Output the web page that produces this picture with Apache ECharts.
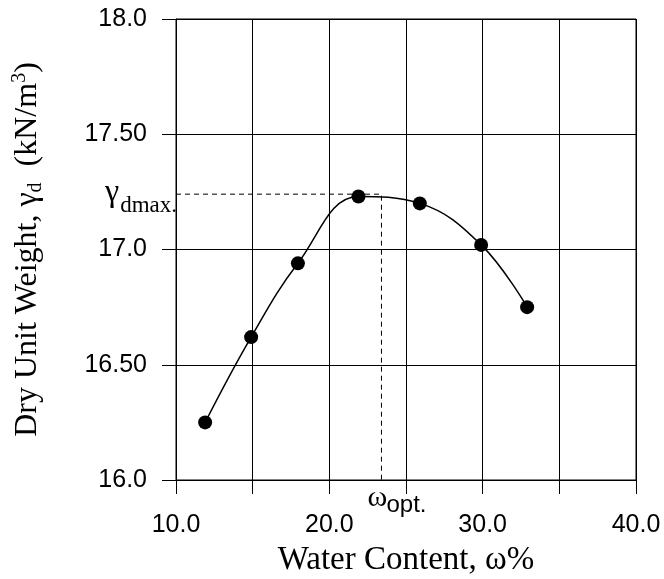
<!DOCTYPE html>
<html>
<head>
<meta charset="utf-8">
<script src="https://cdn.jsdelivr.net/npm/echarts@6.0.0/dist/echarts.min.js"></script>
<style>
  html, body { margin: 0; padding: 0; background: #fff; }
  #chart { width: 664px; height: 579px; }
</style>
</head>
<body>
<div id="chart"></div>
<script>
// compaction test: water content (%) vs dry unit weight (kN/m3)
var waterContent = [11.9, 14.9, 17.95, 21.9, 25.9, 29.9, 32.9]
var dryUnitWeight = [16.25, 16.62, 16.94, 17.23, 17.20, 17.02, 16.75]

// optimum
var wOpt = 23.4
var gammaMax = 17.24

var yTickValues = [16, 16.5, 17, 17.5, 18]
var yTickLabels = ['16.0', '16.50', '17.0', '17.50', '18.0']
var xTickValues = [10, 20, 30, 40]
var xTickLabels = ['10.0', '20.0', '30.0', '40.0']

var sans = '"Liberation Sans", Arial, sans-serif'
var serif = '"Liberation Serif", "Times New Roman", serif'

var chart = echarts.init(document.getElementById('chart'))

var points = waterContent.map(function (w, i) { return [w, dryUnitWeight[i]] })
var guide = [[10, gammaMax], [wOpt, gammaMax], [wOpt, 16]]

var option = {
  backgroundColor: '#fff',
  animation: false,
  grid: {
    left: 176,
    right: 28,
    top: 19,
    bottom: 99,
    outerBoundsMode: 'none',
    containLabel: false,
    show: true,
    borderColor: '#000',
    borderWidth: 1
  },
  xAxis: {
    type: 'value',
    min: 10,
    max: 40,
    interval: 5,
    name: 'Water Content, ω%',
    nameLocation: 'middle',
    nameGap: 64,
    nameTextStyle: { fontFamily: serif, fontSize: 33, color: '#000' },
    axisLine: { show: true, lineStyle: { color: '#000', width: 1 } },
    axisTick: { show: true, inside: false, length: 14, lineStyle: { color: '#000', width: 1 } },
    axisLabel: {
      color: '#000',
      fontFamily: sans,
      fontSize: 25,
      margin: 33,
      formatter: function (v) {
        var i = xTickValues.indexOf(v)
        return i >= 0 ? xTickLabels[i] : ''
      }
    },
    splitLine: { show: true, lineStyle: { color: '#000', width: 1 } }
  },
  yAxis: {
    type: 'value',
    min: 16,
    max: 18,
    interval: 0.5,
    name: '{a|Dry Unit Weight, γ}{s|d}{a|  (kN/m}{p|3}{a|)}',
    nameLocation: 'middle',
    nameRotate: 90,
    nameGap: 130,
    nameTextStyle: {
      color: '#000',
      rich: {
        a: { fontFamily: serif, fontSize: 32, color: '#000', lineHeight: 36 },
        s: { fontFamily: serif, fontSize: 20, color: '#000', lineHeight: 20, verticalAlign: 'bottom' },
        p: { fontFamily: serif, fontSize: 20, color: '#000', lineHeight: 20, verticalAlign: 'top' }
      }
    },
    axisLine: { show: true, lineStyle: { color: '#000', width: 1 } },
    axisTick: { show: true, inside: false, length: 14, lineStyle: { color: '#000', width: 1 } },
    axisLabel: {
      color: '#000',
      fontFamily: sans,
      fontSize: 25,
      margin: 29,
      formatter: function (v) {
        var i = yTickValues.indexOf(v)
        return i >= 0 ? yTickLabels[i] : ''
      }
    },
    splitLine: { show: true, lineStyle: { color: '#000', width: 1 } }
  },
  series: [
    {
      name: 'guide',
      type: 'line',
      data: guide,
      symbol: 'none',
      silent: true,
      lineStyle: { color: '#000', width: 1, type: [5, 4] },
      z: 1
    },
    {
      name: 'compaction',
      type: 'line',
      data: points,
      smooth: 0.4,
      symbol: 'circle',
      symbolSize: 14,
      itemStyle: { color: '#000' },
      lineStyle: { color: '#000', width: 1.5 },
      z: 3
    }
  ]
}

chart.setOption(option)

// annotation labels hang off the guide line ends
var peak = chart.convertToPixel({ gridIndex: 0 }, [wOpt, gammaMax])
var foot = chart.convertToPixel({ gridIndex: 0 }, [wOpt, 16])
var left = chart.convertToPixel({ gridIndex: 0 }, [10, gammaMax])

chart.setOption({
  graphic: [
    {
      type: 'text', x: left[0] - 71, y: peak[1] - 2,
      style: { text: 'γ', font: '32px ' + serif, fill: '#000', textAlign: 'left', textVerticalAlign: 'middle' }
    },
    {
      type: 'text', x: left[0] + 1, y: peak[1] + 12,
      style: { text: 'dmax.', font: '23px ' + serif, fill: '#000', textAlign: 'right', textVerticalAlign: 'middle' }
    },
    {
      type: 'text', x: foot[0] - 14, y: foot[1] + 18,
      style: { text: 'ω', font: '30px ' + serif, fill: '#000', textAlign: 'left', textVerticalAlign: 'middle' }
    },
    {
      type: 'text', x: foot[0] + 5, y: foot[1] + 25,
      style: { text: 'opt.', font: '24px ' + sans, fill: '#000', textAlign: 'left', textVerticalAlign: 'middle' }
    }
  ]
})
</script>
</body>
</html>
